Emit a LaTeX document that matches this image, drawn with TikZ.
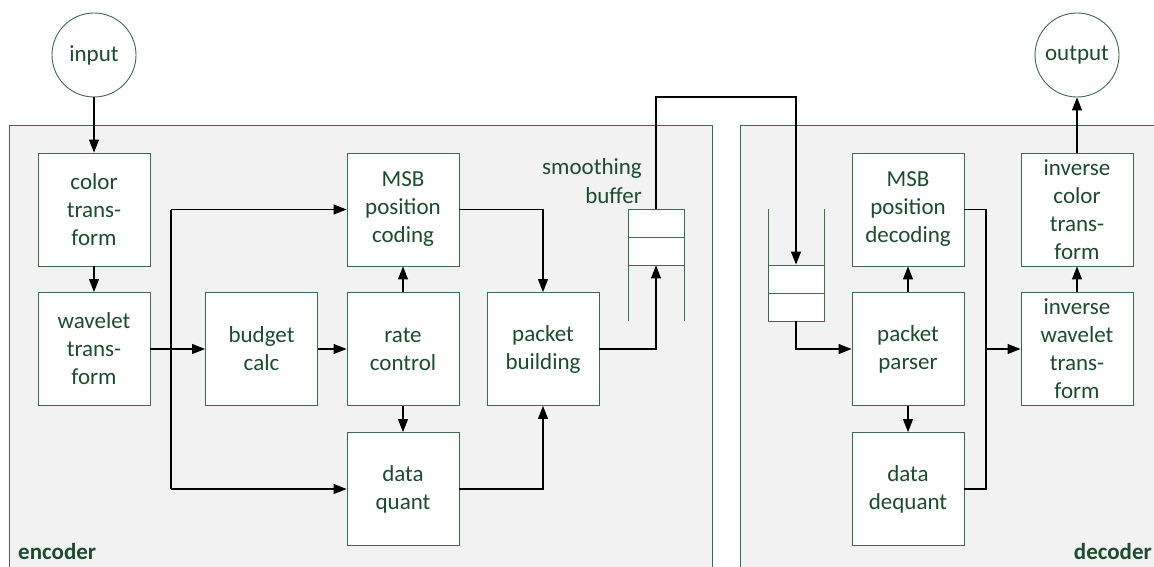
\documentclass[tikz,border=0pt]{standalone}
\usepackage{fontspec}
\setmainfont{Carlito}
\usetikzlibrary{arrows.meta}
\definecolor{txtc}{HTML}{1E4B2E}
\definecolor{bordc}{HTML}{3D6B4B}
\definecolor{panelc}{HTML}{F2F2F2}
\tikzset{
  blk/.style={draw=bordc, fill=white, line width=0.9pt, minimum width=112pt, minimum height=113pt, inner sep=0pt, align=center, text=txtc, font=\fontsize{23}{28}\selectfont},
  term/.style={draw=bordc, fill=white, line width=0.9pt, circle, minimum size=84pt, inner sep=0pt, text=txtc, font=\fontsize{23}{28}\selectfont},
  cell/.style={draw=bordc, fill=white, line width=0.9pt, minimum width=56pt, minimum height=28pt, inner sep=0pt},
  panelfill/.style={fill=panelc},
  side/.style={draw=bordc, line width=0.9pt},
  arr/.style={-{Triangle[length=13pt,width=10pt]}, line width=1.1pt, draw=black},
  ln/.style={line width=1.1pt, draw=black},
  lbl/.style={text=txtc, font=\fontsize{23}{28}\selectfont\bfseries, inner sep=0pt}
}
\begin{document}
\begin{tikzpicture}[x=1pt,y=-1pt]
\useasboundingbox (0,0) rectangle (1154,567);
\clip (0,0) rectangle (1154,567);
\fill[white] (0,0) rectangle (1154,567);
% panels
\fill[panelfill] (9,125) rectangle (712,600);
\draw[side] (9,600) -- (9,125) -- (712,125) -- (712,600);
\fill[panelfill] (740,125) rectangle (1170,600);
\draw[side] (740,600) -- (740,125) -- (1170,125);
\node[lbl, anchor=south west] (enc) at (18,560) {encoder};
\node[lbl, anchor=south east] (dec) at (1152,560) {decoder};
% terminals
\node[term] (in) at (94,55) {input};
\node[term] (out) at (1077,55) {output};
% encoder blocks
\node[blk] (ct) at (94,209.5) {color\\trans-\\form};
\node[blk] (wt) at (94,349) {wavelet\\trans-\\form};
\node[blk] (bc) at (261.5,349) {budget\\calc};
\node[blk] (msb) at (403,209.5) {MSB\\position\\coding};
\node[blk] (rc) at (403,349) {rate\\control};
\node[blk] (dq) at (403,489) {data\\quant};
\node[blk] (pb) at (543,349) {packet\\building};
% smoothing buffer
\draw[side] (628,209) -- (628,321);
\draw[side] (684,209) -- (684,321);
\node[cell] (sb1) at (656,223) {};
\node[cell] (sb2) at (656,251) {};
\node[text=txtc, font=\fontsize{23}{29}\selectfont, align=right, anchor=east, inner sep=0pt] (sbl) at (642,181) {smoothing\\buffer};
% decoder buffer
\draw[side] (768,209) -- (768,321);
\draw[side] (824,209) -- (824,321);
\node[cell] (db1) at (796,279) {};
\node[cell] (db2) at (796,307) {};
% decoder blocks
\node[blk] (msbd) at (908,209.5) {MSB\\position\\decoding};
\node[blk] (pp) at (908,349) {packet\\parser};
\node[blk] (dd) at (908,489) {data\\dequant};
\node[blk] (ict) at (1077,209.5) {inverse\\color\\trans-\\form};
\node[blk] (iwt) at (1077,349) {inverse\\wavelet\\trans-\\form};
% coordinates
\coordinate (br) at (171,349);
\coordinate (brt) at (171,209.5);
\coordinate (brb) at (171,489);
\coordinate (mr) at (543,209.5);
\coordinate (qr) at (543,489);
\coordinate (pbr) at (656,349);
\coordinate (up1) at (656,97);
\coordinate (up2) at (796,97);
\coordinate (dbo) at (796,349);
\coordinate (dj) at (986,349);
\coordinate (djt) at (986,209.5);
\coordinate (djb) at (986,489);
% encoder connectors
\draw[arr] (in) -- (ct);
\draw[arr] (ct) -- (wt);
\draw[arr] (wt) -- (bc);
\draw[ln] (brt) -- (brb);
\draw[arr] (brt) -- (msb.west);
\draw[arr] (brb) -- (dq.west);
\draw[arr] (bc) -- (rc);
\draw[arr] (rc) -- (msb);
\draw[arr] (rc) -- (dq);
\draw[arr] (msb.east) -- (mr) -- (pb.north);
\draw[arr] (dq.east) -- (qr) -- (pb.south);
\draw[arr] (pb.east) -- (pbr) -- (sb2.south);
\draw[arr] (sb1.north) -- (up1) -- (up2) -- (db1.north);
% decoder connectors
\draw[arr] (db2.south) -- (dbo) -- (pp.west);
\draw[arr] (pp) -- (msbd);
\draw[arr] (pp) -- (dd);
\draw[ln] (msbd.east) -- (djt) -- (djb) -- (dd.east);
\draw[arr] (dj) -- (iwt.west);
\draw[arr] (iwt) -- (ict);
\draw[arr] (ict) -- (out);
\end{tikzpicture}
\end{document}
